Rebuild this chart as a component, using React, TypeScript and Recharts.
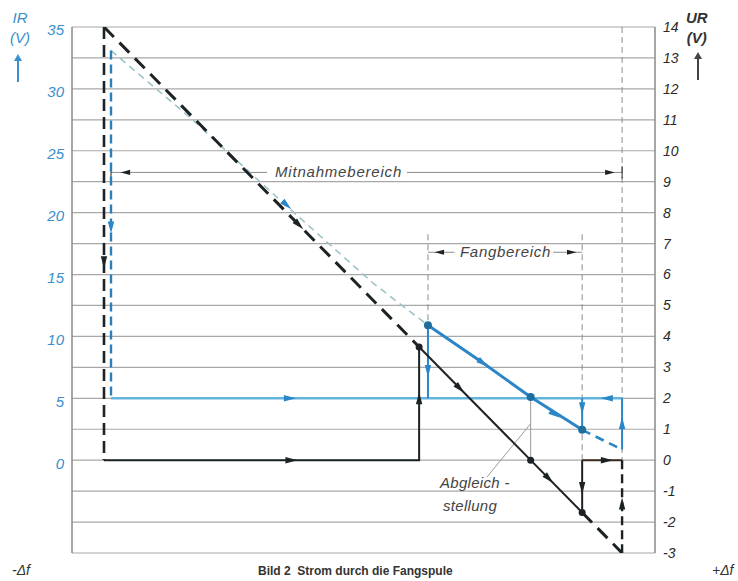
import React from "react";
import { LineChart, Line, XAxis, YAxis, CartesianGrid, ReferenceDot } from "recharts";

// Axis ticks
const urTicks = [-3, -2, -1, 0, 1, 2, 3, 4, 5, 6, 7, 8, 9, 10, 11, 12, 13, 14];
const irTicks = [0, 5, 10, 15, 20, 25, 30, 35];
const xDomain = [-15.05, 4.08];

// Black: UR (right axis)
const blackDiagTop = [{ x: -14, y: 14 }, { x: -3.66, y: 3.66 }];
const blackDiagMid = [{ x: -3.66, y: 3.66 }, { x: 1.69, y: -1.69 }];
const blackDiagBottom = [{ x: 1.69, y: -1.69 }, { x: 3, y: -3 }];
const blackVertLeft = [{ x: -14, y: 14 }, { x: -14, y: 0 }];
const blackBase = [{ x: -14, y: 0 }, { x: -3.66, y: 0 }, { x: -3.66, y: 3.66 }];
const blackDropRight = [{ x: 1.69, y: 0 }, { x: 1.69, y: -1.69 }];
const blackBaseRight = [{ x: 1.69, y: 0 }, { x: 3, y: 0 }];
const blackVertRight = [{ x: 3, y: 0 }, { x: 3, y: -3 }];

// Blue: IR (left axis)
const blueSettle = [{ x: -13.77, y: 33.1 }, { x: -13.77, y: 5 }];
const blueFaint = [
  { x: -13.77, y: 33.1 },
  { x: -11.18, y: 27.7 },
  { x: -8.22, y: 21.0 },
  { x: -5.17, y: 14.3 },
  { x: -3.37, y: 10.9 },
];
const blueCurve = [
  { x: -3.37, y: 10.9 },
  { x: -1.56, y: 7.85 },
  { x: 0, y: 5.1 },
  { x: 1.69, y: 2.45 },
];
const blueTail = [{ x: 1.69, y: 2.45 }, { x: 3, y: 0.85 }];
const blueBase = [{ x: -13.77, y: 5 }, { x: 3, y: 5 }];
const blueJumpLeft = [{ x: -3.37, y: 5 }, { x: -3.37, y: 10.9 }];
const blueJumpMid = [{ x: 1.69, y: 5 }, { x: 1.69, y: 2.45 }];
const blueJumpRight = [{ x: 3, y: 0.85 }, { x: 3, y: 5 }];

// Guides (UR)
const guideFangL = [{ x: -3.37, y: 7.3 }, { x: -3.37, y: 4.37 }];
const guideFangR = [{ x: 1.69, y: 7.3 }, { x: 1.69, y: 0 }];
const guideMitR = [{ x: 3, y: 14 }, { x: 3, y: 0 }];
const guideAbgleich = [{ x: 0, y: 2.04 }, { x: 0, y: 0 }];
const leaderAbgleich = [{ x: -1.43, y: -0.54 }, { x: 0, y: 1.18 }];
const mitLineA = [{ x: -13.77, y: 9.3 }, { x: -8.65, y: 9.3 }];
const mitLineB = [{ x: -4.06, y: 9.3 }, { x: 3, y: 9.3 }];
const mitTickL = [{ x: -13.77, y: 9.5 }, { x: -13.77, y: 9.1 }];
const mitTickR = [{ x: 3, y: 9.5 }, { x: 3, y: 9.1 }];
const fangLineA = [{ x: -3.37, y: 6.72 }, { x: -2.5, y: 6.72 }];
const fangLineB = [{ x: 0.74, y: 6.72 }, { x: 1.69, y: 6.72 }];

// Dots
const blackDots = [{ x: -3.66, y: 3.66 }, { x: 0, y: 0 }, { x: 1.69, y: -1.69 }];
const blueDots = [{ x: -3.37, y: 10.9 }, { x: 0, y: 5.1 }, { x: 1.69, y: 2.45 }];

// Arrows (angle: 0 right, 90 down, -90 up)
const blackArrows = [
  { x: -14, y: 6.4, a: 90 },
  { x: -7.85, y: 0, a: 0 },
  { x: -3.66, y: 2.0, a: -90 },
  { x: -7.6, y: 7.6, a: 45 },
  { x: -2.32, y: 2.32, a: 45 },
  { x: 0.6, y: -0.6, a: 45 },
  { x: 1.69, y: -0.9, a: 90 },
  { x: 2.5, y: 0, a: 0 },
  { x: 3, y: -1.4, a: -90 },
  { x: -13.3, y: 9.3, a: 180 },
  { x: 2.6, y: 9.3, a: 0 },
  { x: -3.0, y: 6.72, a: 180 },
  { x: 1.35, y: 6.72, a: 0 },
];
const blueArrows = [
  { x: -13.77, y: 18.8, a: 90 },
  { x: -7.9, y: 5, a: 0 },
  { x: -8.0, y: 20.6, a: 42 },
  { x: -3.37, y: 7.2, a: 90 },
  { x: -1.56, y: 7.85, a: 34 },
  { x: 0.8, y: 3.7, a: 34 },
  { x: 1.69, y: 4.2, a: 90 },
  { x: 2.5, y: 5, a: 180 },
  { x: 3, y: 3.0, a: -90 },
];

const BLACK = "#1d2225";
const BLUE = "#2a86c6";
const LIGHTBLUE = "#62b4da";
const PALE = "#9cc3c8";
const GRID = "#a8a8a8";
const GUIDE = "#8c8c8c";

const arrowShape = (a: number, color: string, s = 1) => (props: any) => {
  const { cx, cy } = props;
  if (cx == null || cy == null) return <g />;
  return (
    <path
      transform={`translate(${cx},${cy}) rotate(${a}) scale(${s})`}
      d="M6,0 L-6,-3.2 L-6,3.2 Z"
      fill={color}
    />
  );
};

const L = (data: any[], yAxisId: string, stroke: string, width: number, dash?: string, key?: string) => (
  <Line
    key={key}
    data={data}
    dataKey="y"
    xAxisId="x"
    yAxisId={yAxisId}
    type="linear"
    stroke={stroke}
    strokeWidth={width}
    strokeDasharray={dash}
    dot={false}
    activeDot={false}
    isAnimationActive={false}
    legendType="none"
  />
);

const txt: React.CSSProperties = {
  position: "absolute",
  fontFamily: "'Liberation Sans', Arial, sans-serif",
  fontStyle: "italic",
  whiteSpace: "nowrap",
};

export default function App() {
  return (
    <div style={{ position: "absolute", left: 0, top: 0, width: 738, height: 581, background: "#fff", overflow: "hidden" }}>
      <LineChart width={738} height={581} margin={{ top: 27, right: 0, bottom: 28, left: 0 }}>
        <XAxis xAxisId="x" type="number" dataKey="x" domain={xDomain} hide allowDataOverflow />
        <YAxis
          yAxisId="left"
          orientation="left"
          width={72}
          domain={[-7.5, 35]}
          ticks={irTicks}
          allowDataOverflow
          tickLine={false}
          axisLine={{ stroke: "#8a8a8a", strokeWidth: 1.5 }}
          tick={{ fill: "#3a8fcc", fontSize: 15, fontStyle: "italic", fontFamily: "'Liberation Sans', Arial, sans-serif" }}
          tickMargin={2}
          dy={3}
        />
        <YAxis
          yAxisId="right"
          orientation="right"
          width={83}
          domain={[-3, 14]}
          ticks={urTicks}
          allowDataOverflow
          tickLine={false}
          axisLine={{ stroke: "#8a8a8a", strokeWidth: 1.5 }}
          tick={{ fill: "#2a2a2a", fontSize: 14, fontStyle: "italic", fontFamily: "'Liberation Sans', Arial, sans-serif" }}
          tickMargin={2}
        />
        <CartesianGrid xAxisId="x" yAxisId="right" vertical={false} stroke={GRID} strokeWidth={1.2} />

        {/* guides */}
        {L(guideFangL, "right", GUIDE, 1, "6 4", "g1")}
        {L(guideFangR, "right", GUIDE, 1, "6 4", "g2")}
        {L(guideMitR, "right", GUIDE, 1, "6 4", "g3")}
        {L(guideAbgleich, "right", "#9a9a9a", 1, undefined, "g4")}
        {L(leaderAbgleich, "right", "#9a9a9a", 1, undefined, "g5")}
        {L(mitLineA, "right", GUIDE, 1, undefined, "g6")}
        {L(mitLineB, "right", GUIDE, 1, undefined, "g7")}
        {L(mitTickL, "right", BLACK, 1, undefined, "g8")}
        {L(mitTickR, "right", BLACK, 1, undefined, "g9")}
        {L(fangLineA, "right", GUIDE, 1, undefined, "g10")}
        {L(fangLineB, "right", GUIDE, 1, undefined, "g11")}

        {/* blue */}
        {L(blueFaint, "left", PALE, 1.6, "7 5", "b1")}
        {L(blueBase, "left", LIGHTBLUE, 2.6, undefined, "b2")}
        {L(blueSettle, "left", "#2e7fb8", 2.4, "9 5", "b3")}
        {L(blueCurve, "left", BLUE, 3, undefined, "b4")}
        {L(blueTail, "left", BLUE, 2.6, "9 6", "b5")}
        {L(blueJumpLeft, "left", BLUE, 2, undefined, "b6")}
        {L(blueJumpMid, "left", BLUE, 2, undefined, "b7")}
        {L(blueJumpRight, "left", BLUE, 2, undefined, "b8")}

        {/* black */}
        {L(blackDiagTop, "right", BLACK, 3, "14 8", "k1")}
        {L(blackDiagMid, "right", BLACK, 2, undefined, "k2")}
        {L(blackDiagBottom, "right", BLACK, 3, "14 8", "k3")}
        {L(blackVertLeft, "right", BLACK, 2.6, "12 6", "k4")}
        {L(blackBase, "right", BLACK, 2, undefined, "k5")}
        {L(blackDropRight, "right", BLACK, 2, undefined, "k6")}
        {L(blackBaseRight, "right", "#3a2a22", 2, undefined, "k7")}
        {L(blackVertRight, "right", BLACK, 2.4, "9 5", "k8")}

        {blueDots.map((d, i) => (
          <ReferenceDot key={"bd" + i} xAxisId="x" yAxisId="left" x={d.x} y={d.y} r={4} fill="#1f6f9e" stroke="none" />
        ))}
        {blackDots.map((d, i) => (
          <ReferenceDot key={"kd" + i} xAxisId="x" yAxisId="right" x={d.x} y={d.y} r={3.5} fill={BLACK} stroke="none" />
        ))}
        {blueArrows.map((d, i) => (
          <ReferenceDot key={"ba" + i} xAxisId="x" yAxisId="left" x={d.x} y={d.y} r={4} shape={arrowShape(d.a, BLUE)} />
        ))}
        {blackArrows.map((d, i) => (
          <ReferenceDot key={"ka" + i} xAxisId="x" yAxisId="right" x={d.x} y={d.y} r={4} shape={arrowShape(d.a, BLACK, i >= 9 ? 0.8 : 1)} />
        ))}
      </LineChart>

      {/* axis titles */}
      <div style={{ ...txt, left: 10, top: 8, color: "#3a8fcc", fontSize: 15, lineHeight: "20px", textAlign: "center" }}>
        IR
        <br />
        (V)
      </div>
      <div style={{ position: "absolute", left: 17, top: 56, width: 2, height: 26, background: "#3a8fcc" }} />
      <div style={{ position: "absolute", left: 14, top: 54, width: 0, height: 0, borderLeft: "4px solid transparent", borderRight: "4px solid transparent", borderBottom: "7px solid #3a8fcc" }} />

      <div style={{ ...txt, left: 686, top: 8, color: "#333", fontSize: 15, lineHeight: "20px", textAlign: "center", fontWeight: "bold" }}>
        UR
        <br />
        (V)
      </div>
      <div style={{ position: "absolute", left: 697, top: 54, width: 2, height: 26, background: "#444" }} />
      <div style={{ position: "absolute", left: 694, top: 52, width: 0, height: 0, borderLeft: "4px solid transparent", borderRight: "4px solid transparent", borderBottom: "7px solid #444" }} />

      {/* annotations */}
      <div style={{ ...txt, left: 275, top: 163, color: "#444", fontSize: 15, letterSpacing: 0.8 }}>Mitnahmebereich</div>
      <div style={{ ...txt, left: 460, top: 243, color: "#444", fontSize: 15, letterSpacing: 0.7 }}>Fangbereich</div>
      <div style={{ ...txt, left: 440, top: 474, color: "#444", fontSize: 15, letterSpacing: 0.3 }}>Abgleich -</div>
      <div style={{ ...txt, left: 443, top: 497, color: "#444", fontSize: 15, letterSpacing: 0.3 }}>stellung</div>

      <div style={{ ...txt, left: 12, top: 562, color: "#333", fontSize: 14 }}>-Δf</div>
      <div style={{ ...txt, left: 712, top: 562, color: "#333", fontSize: 14 }}>+Δf</div>
      <div style={{ position: "absolute", left: 258, top: 564, fontFamily: "'Liberation Sans', Arial, sans-serif", fontWeight: "bold", fontSize: 12, lineHeight: "15px", color: "#333", whiteSpace: "nowrap" }}>
        Bild 2 &nbsp;Strom durch die Fangspule
      </div>
    </div>
  );
}
